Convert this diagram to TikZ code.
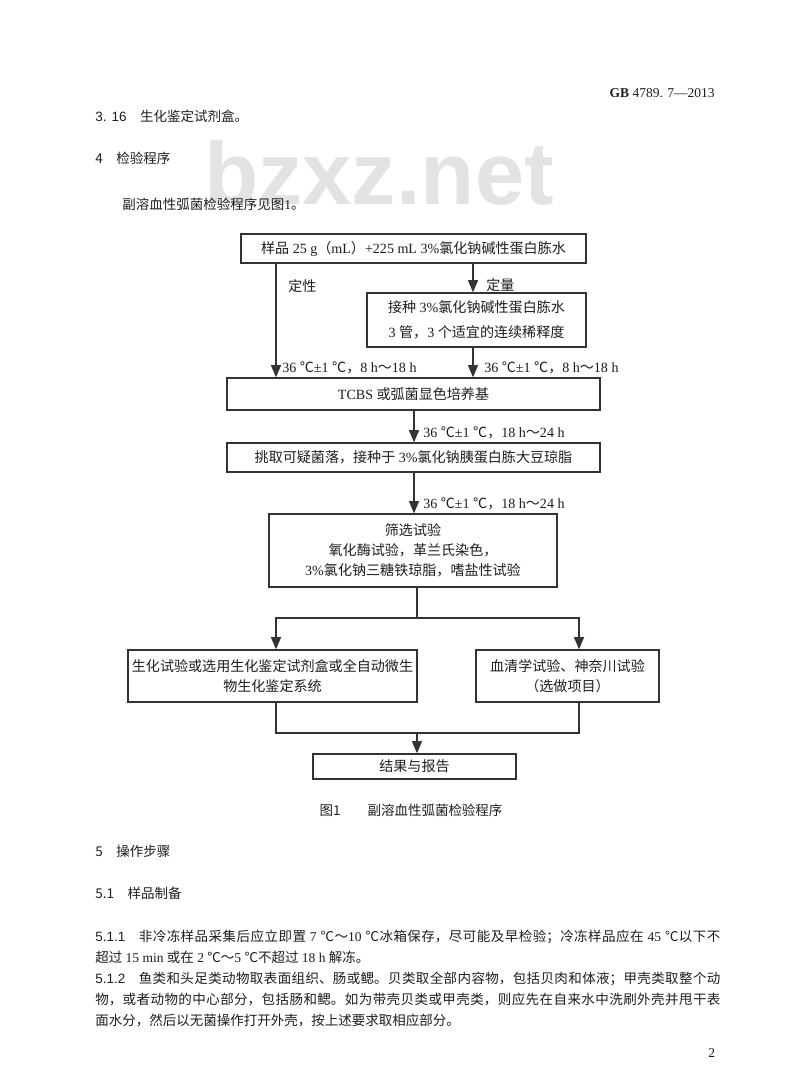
\documentclass[tikz,border=0pt]{standalone}
\usepackage{fontspec}
\setmainfont{Liberation Serif}
\setsansfont{Liberation Sans}
\newfontfamily\cjk{Noto Sans CJK SC}
\usetikzlibrary{arrows}

% Han characters and full-width signs switch to \cjk by themselves
\chardef\cjkclass=5
\newcount\cjkcnt
\def\cjkrange#1#2{\cjkcnt=#1\relax
  \loop\XeTeXcharclass\cjkcnt=\cjkclass\relax
  \ifnum\cjkcnt<#2\advance\cjkcnt by 1\repeat}
\cjkrange{"3000}{"303F}
\cjkrange{"4E00}{"9FFF}
\cjkrange{"FF00}{"FFEF}
\XeTeXcharclass"2103=\cjkclass
\XeTeXinterchartoks 0 \cjkclass = {\cjk}
\XeTeXinterchartoks 4095 \cjkclass = {\cjk}
\XeTeXinterchartoks \cjkclass 0 = {\rmfamily}
\XeTeXinterchartoks \cjkclass 4095 = {\rmfamily}
\XeTeXinterchartokenstate=1
\XeTeXlinebreaklocale "zh"
\XeTeXlinebreakskip=0pt plus 1pt

\definecolor{ink}{HTML}{1E1E1E}
\definecolor{rule}{HTML}{333333}
\definecolor{mark}{HTML}{E3E3E3}

\newcommand\flowfont{\fontsize{10pt}{14.4pt}\selectfont}
\newcommand\bodyfont{\fontsize{9.6pt}{14.94pt}\selectfont}
\newcommand\hd[1]{{\XeTeXinterchartokenstate=0 \cjk #1}}

\tikzset{
  fc_box/.style = {rectangle, draw=rule, line width=1pt, inner sep=0pt,
    align=center, text=ink, font=\flowfont},% flowchart step
  fc_lbl/.style = {inner sep=0pt, anchor=west, text=ink, font=\flowfont},
  fc_arrow/.style = {draw=rule, line width=1pt, ->, >=triangle 45},
  fc_line/.style = {draw=rule, line width=1pt},
  pg_txt/.style = {inner sep=0pt, anchor=base west, text=ink, font=\bodyfont},
  pg_par/.style = {pg_txt, text width=15.625cm, align=justify}% page paragraph
}

\begin{document}
\begin{tikzpicture}[x=0.025cm, y=-0.025cm]
  \useasboundingbox[fill=white] (0,0) rectangle (800,1090);

  \node (wm) [anchor=base, text=mark, font=\fontsize{63pt}{63pt}\selectfont\sffamily\bfseries]
    at (379,204) {bzxz.net};

  % page head
  \node (hdr) [pg_txt, anchor=base east] at (715,98) {{\bfseries GB} 4789. 7—2013};
  \node (s316) [pg_txt] at (95,122) {{\sffamily 3. 16}\hspace{1em}生化鉴定试剂盒。};
  \node (s4) [pg_txt] at (95,163) {\hd{4\hspace{1em}检验程序}};
  \node (intro) [pg_txt] at (122,209) {副溶血性弧菌检验程序见图1。};

  % flowchart
  \node (b1) [fc_box, minimum width=8.625cm, minimum height=0.725cm] at (413.5,248.5)
    {样品 25 g（mL）+225 mL 3\%氯化钠碱性蛋白胨水};
  \node (b2) [fc_box, minimum width=5.475cm, minimum height=1.35cm] at (476.5,320)
    {接种 3\%氯化钠碱性蛋白胨水\\[3.4pt]3 管，3 个适宜的连续稀释度};
  \node (b3) [fc_box, minimum width=9.325cm, minimum height=0.8cm] at (413.5,394)
    {TCBS 或弧菌显色培养基};
  \node (b4) [fc_box, minimum width=9.325cm, minimum height=0.725cm] at (413.5,457.5)
    {挑取可疑菌落，接种于 3\%氯化钠胰蛋白胨大豆琼脂};
  \node (b5) [fc_box, minimum width=7.2cm, minimum height=1.825cm] at (413,550.5)
    {筛选试验\\氧化酶试验，革兰氏染色，\\3\%氯化钠三糖铁琼脂，嗜盐性试验};
  \node (b6) [fc_box, minimum width=7.225cm, minimum height=1.3cm] at (272.5,676)
    {生化试验或选用生化鉴定试剂盒或全自动微生\\物生化鉴定系统};
  \node (b7) [fc_box, minimum width=4.575cm, minimum height=1.3cm] at (567.5,676)
    {血清学试验、神奈川试验\\（选做项目）};
  \node (b8) [fc_box, minimum width=5.075cm, minimum height=0.625cm] at (414.5,766.5)
    {结果与报告};

  \coordinate (qual) at (276,0);
  \coordinate (quan) at (473,0);
  \coordinate (mid) at (414,0);
  \coordinate (split) at (417,618);
  \coordinate (join) at (417,733);
  \coordinate (lx) at (276,0);
  \coordinate (rx) at (579,0);

  \draw[fc_arrow] (b1.south -| qual) -- (b3.north -| qual);
  \draw[fc_arrow] (b1.south -| quan) -- (b2.north -| quan);
  \draw[fc_arrow] (b2.south -| quan) -- (b3.north -| quan);
  \draw[fc_arrow] (b3.south -| mid) -- (b4.north -| mid);
  \draw[fc_arrow] (b4.south -| mid) -- (b5.north -| mid);
  \draw[fc_line] (b5.south -| split) -- (split);
  \draw[fc_arrow] (split) -| (b6.north -| lx);
  \draw[fc_arrow] (split) -| (b7.north -| rx);
  \draw[fc_line] (b6.south -| lx) |- (join);
  \draw[fc_line] (b7.south -| rx) |- (join);
  \draw[fc_arrow] (join) -- (b8.north -| join);

  \node (l1) [fc_lbl] at (288,286) {定性};
  \node (l2) [fc_lbl] at (486,285) {定量};
  \node (l3) [fc_lbl] at (282,368) {36 ℃±1 ℃，8 h～18 h};
  \node (l4) [fc_lbl] at (484,368) {36 ℃±1 ℃，8 h～18 h};
  \node (l5) [fc_lbl] at (423,433) {36 ℃±1 ℃，18 h～24 h};
  \node (l6) [fc_lbl] at (423,504) {36 ℃±1 ℃，18 h～24 h};

  \node (cap) [inner sep=0pt, text=ink, font=\bodyfont] at (411,810)
    {\hd{图1\hspace{2em}副溶血性弧菌检验程序}};

  % clause 5
  \node (s5) [pg_txt] at (95,856) {\hd{5\hspace{1em}操作步骤}};
  \node (s51) [pg_txt] at (95,898) {\hd{5.1\hspace{1em}样品制备}};
  \node (p511) [pg_par] at (95,941)
    {{\sffamily 5.1.1}\hspace{1em}非冷冻样品采集后应立即置 7 ℃～10 ℃冰箱保存，尽可能及早检验；冷冻样品应在 45 ℃以下不\linebreak
    超过 15 min 或在 2 ℃～5 ℃不超过 18 h 解冻。};
  \node (p512) [pg_par] at (95,983)
    {{\sffamily 5.1.2}\hspace{1em}鱼类和头足类动物取表面组织、肠或鳃。贝类取全部内容物，包括贝肉和体液；甲壳类取整个动\linebreak
    物，或者动物的中心部分，包括肠和鳃。如为带壳贝类或甲壳类，则应先在自来水中洗刷外壳并甩干表\linebreak
    面水分，然后以无菌操作打开外壳，按上述要求取相应部分。};
  \node (pg) [pg_txt] at (708,1057) {2};
\end{tikzpicture}
\end{document}
